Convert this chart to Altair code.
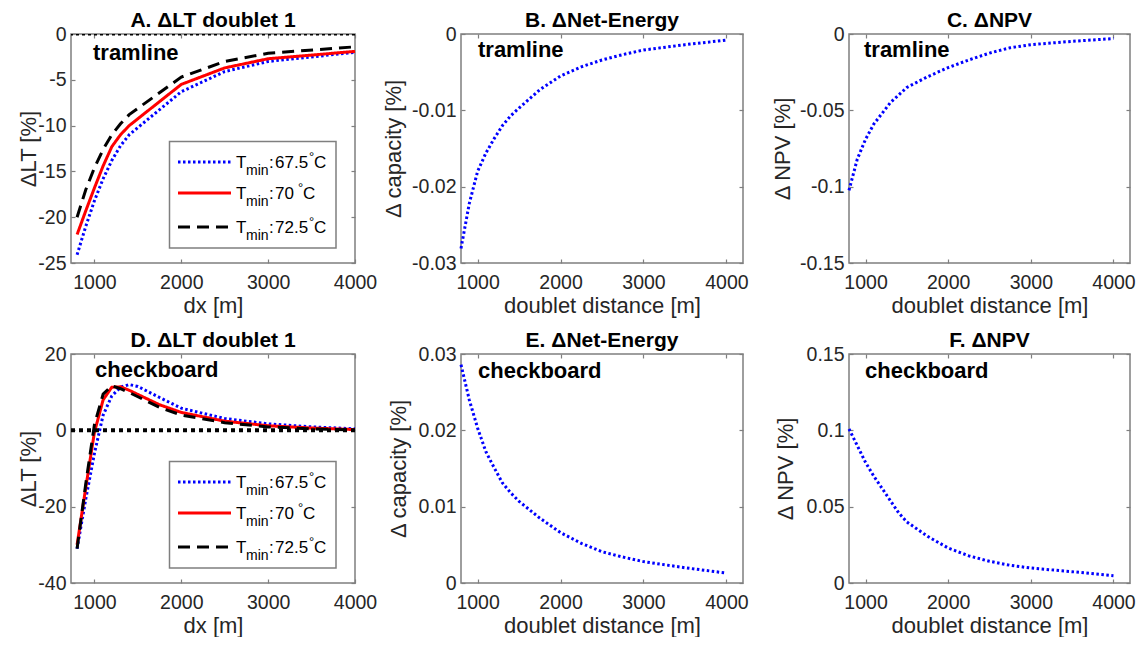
import altair as alt
import pandas as pd

FONT = "Liberation Sans"
GREY = "#7f7f7f"
TXT = "#262626"

# ---------------- data ----------------
series_names = ["67.5", "70", "72.5"]

# Panel A: tramline, delta LT doublet 1 [%]
x_a = [800, 900, 1000, 1100, 1200, 1300, 1400, 2000, 2500, 3000, 4000]
a_675 = [-24.1, -21.0, -18.2, -15.8, -13.8, -12.2, -11.0, -6.3, -4.1, -3.0, -2.0]
a_70 = [-21.9, -19.3, -16.8, -14.4, -12.3, -11.0, -10.0, -5.5, -3.7, -2.7, -1.9]
a_725 = [-20.0, -17.0, -14.6, -12.6, -11.0, -9.8, -8.8, -4.7, -3.0, -2.1, -1.4]

# Panel D: checkboard, delta LT doublet 1 [%]
x_d = [800, 900, 1000, 1100, 1200, 1300, 1400, 1500, 1750, 2000, 2500, 3000, 3500, 4000]
d_675 = [-31.0, -18.0, -6.0, 4.0, 9.0, 11.3, 12.0, 11.5, 8.6, 5.8, 3.1, 1.7, 0.9, 0.4]
d_70 = [-30.0, -15.0, -0.5, 8.0, 11.3, 11.4, 10.5, 9.4, 6.7, 4.7, 2.4, 1.2, 0.6, 0.2]
d_725 = [-31.0, -14.0, 1.5, 9.5, 11.7, 10.9, 9.9, 8.8, 6.0, 4.0, 2.0, 0.9, 0.4, 0.1]

# Panels B, C, E, F: doublet distance
x_dist = [800, 900, 1000, 1100, 1200, 1300, 1400, 1500, 1750, 2000, 2250, 2500, 2750, 3000, 3500, 4000]
b_cap = [-0.0281, -0.0222, -0.0180, -0.0156, -0.0137, -0.0120, -0.0107, -0.0097, -0.0073, -0.0055,
         -0.0043, -0.0034, -0.0027, -0.0021, -0.0014, -0.0008]
c_npv = [-0.1024, -0.0820, -0.0690, -0.0590, -0.0520, -0.0450, -0.0400, -0.0350, -0.0280, -0.0220,
         -0.0170, -0.0125, -0.0090, -0.0070, -0.0048, -0.0030]
e_cap = [0.0286, 0.0240, 0.0203, 0.0172, 0.0151, 0.0131, 0.0118, 0.0107, 0.0085, 0.0066,
         0.0052, 0.0041, 0.0034, 0.0028, 0.0020, 0.0013]
f_npv = [0.1009, 0.0900, 0.0790, 0.0700, 0.0620, 0.0540, 0.0460, 0.0400, 0.0306, 0.0229,
         0.0178, 0.0142, 0.0116, 0.0098, 0.0074, 0.0048]

x_ticks = [1000, 2000, 3000, 4000]

# ---------------- styling ----------------
COLORS = ["#0000ff", "#ff0000", "#000000"]
DASHES = [[2.5, 2.5], [1, 0], [12, 7]]
LAB_EXPR = "replace(datum.label, '\u2212', '-')"
FMT = ".12~g"
XDOM_LT = [730, 4000]
XDOM_DIST = [800, 4200]


def long_df(x, cols):
    rows = []
    for name, vals in zip(series_names, cols):
        for xi, yi in zip(x, vals):
            rows.append({"x": xi, "y": yi, "s": name})
    return pd.DataFrame(rows)


def make_axes(yvals, xtitle, ytitle, ytitle_x, w, h):
    xb = alt.Axis(orient="bottom", values=x_ticks, format=FMT, offset=-4, tickSize=4,
                  labelPadding=10, labelFlush=False, labelOverlap=False,
                  title=xtitle, titleBaseline="middle", titleY=46, titleX=w / 2)
    yl = alt.Axis(orient="left", values=yvals, format=FMT, labelExpr=LAB_EXPR, offset=-4,
                  tickSize=4, labelPadding=5, labelFlush=False, labelOverlap=False,
                  title=ytitle, titleBaseline="middle",
                  titleX=ytitle_x - 4, titleY=h / 2, titleAngle=-90)
    return xb, yl


def hidden_axes(df, xdom, ydom, yvals):
    return alt.Chart(df).mark_point(opacity=0).encode(
        x=alt.X("x:Q", scale=alt.Scale(domain=xdom, nice=False, zero=False),
                axis=alt.Axis(orient="top", values=x_ticks, labels=False, title=None,
                              offset=-4, tickSize=4)),
        y=alt.Y("y:Q", scale=alt.Scale(domain=ydom, nice=False, zero=False),
                axis=alt.Axis(orient="right", values=yvals, labels=False, title=None,
                              offset=-4, tickSize=4)),
    )


def line_layer(df, xdom, ydom, yvals, xtitle, ytitle, ytitle_x, w, h, multi):
    xb, yl = make_axes(yvals, xtitle, ytitle, ytitle_x, w, h)
    enc = dict(
        x=alt.X("x:Q", scale=alt.Scale(domain=xdom, nice=False, zero=False), axis=xb),
        y=alt.Y("y:Q", scale=alt.Scale(domain=ydom, nice=False, zero=False), axis=yl),
    )
    if multi:
        enc["color"] = alt.Color("s:N", scale=alt.Scale(domain=series_names, range=COLORS), legend=None)
        enc["strokeDash"] = alt.StrokeDash("s:N", scale=alt.Scale(domain=series_names, range=DASHES),
                                           legend=None)
        enc["order"] = alt.Order("x:Q")
        return alt.Chart(df).mark_line(strokeWidth=3, strokeCap="butt").encode(**enc)
    return alt.Chart(df).mark_line(strokeWidth=3, strokeCap="butt", color="#0000ff",
                                   strokeDash=[2.5, 2.5]).encode(**enc)


ONE = pd.DataFrame({"a": [0]})


def note(text, x, y):
    return alt.Chart(ONE).mark_text(text=text, font=FONT, fontSize=22, fontWeight="bold",
                                    align="left", baseline="alphabetic", color="black").encode(
        x=alt.value(x), y=alt.value(y))


def txt(text, x, y, size):
    return alt.Chart(ONE).mark_text(text=text, font=FONT, fontSize=size, align="left",
                                    baseline="alphabetic", color="black").encode(
        x=alt.value(x), y=alt.value(y))


def legend_layers():
    layers = [alt.Chart(ONE).mark_rect(fill="white", stroke=GREY, strokeWidth=1.5).encode(
        x=alt.value(98.5), x2=alt.value(265), y=alt.value(107.5), y2=alt.value(214))]
    row_y = [128, 159, 193]
    deg_x = [238, 227, 238]
    for i, name in enumerate(series_names):
        ry = row_y[i]
        layers.append(alt.Chart(ONE).mark_rule(color=COLORS[i], strokeWidth=3, strokeDash=DASHES[i],
                                               strokeCap="butt").encode(
            x=alt.value(107), x2=alt.value(160), y=alt.value(ry)))
        base = ry + 6
        layers.append(txt("T", 165, base, 17))
        layers.append(txt("min", 175, base + 7, 14))
        layers.append(txt(":", 198, base, 17))
        layers.append(txt(name, 204, base, 17))
        layers.append(txt("°", deg_x[i], base - 7, 13))
        layers.append(txt("C", deg_x[i] + 5, base, 17))
    return layers


def zero_rule(width, dash, clip):
    return alt.Chart(pd.DataFrame({"y": [0]})).mark_rule(
        color="black", strokeWidth=width, strokeDash=dash, clip=clip).encode(
        y=alt.Y("y:Q", axis=None))


W = [284, 282, 281]
H = 229

# Panel A
dfA = long_df(x_a, [a_675, a_70, a_725])
pA = alt.layer(
    line_layer(dfA, XDOM_LT, [-25, 0], [-25, -20, -15, -10, -5, 0], "dx [m]", "ΔLT [%]", -43,
               W[0], H, True),
    hidden_axes(dfA, XDOM_LT, [-25, 0], [-25, -20, -15, -10, -5, 0]),
    zero_rule(3, [3, 3], True),
    note("tramline", 22, 26),
    *legend_layers(),
).properties(width=W[0], height=H, title=alt.TitleParams("A. ΔLT doublet 1"))

dfB = pd.DataFrame({"x": x_dist, "y": b_cap})
pB = alt.layer(
    line_layer(dfB, XDOM_DIST, [-0.03, 0], [-0.03, -0.02, -0.01, 0], "doublet distance [m]",
               "Δ capacity [%]", -68, W[1], H, False),
    hidden_axes(dfB, XDOM_DIST, [-0.03, 0], [-0.03, -0.02, -0.01, 0]),
    note("tramline", 17, 23),
).properties(width=W[1], height=H, title=alt.TitleParams("B. ΔNet-Energy"))

dfC = pd.DataFrame({"x": x_dist, "y": c_npv})
pC = alt.layer(
    line_layer(dfC, XDOM_DIST, [-0.15, 0], [-0.15, -0.1, -0.05, 0], "doublet distance [m]",
               "Δ NPV [%]", -67, W[2], H, False),
    hidden_axes(dfC, XDOM_DIST, [-0.15, 0], [-0.15, -0.1, -0.05, 0]),
    note("tramline", 15, 23),
).properties(width=W[2], height=H, title=alt.TitleParams("C. ΔNPV"))

dfD = long_df(x_d, [d_675, d_70, d_725])
pD = alt.layer(
    line_layer(dfD, XDOM_LT, [-40, 20], [-40, -20, 0, 20], "dx [m]", "ΔLT [%]", -43,
               W[0], H, True),
    hidden_axes(dfD, XDOM_LT, [-40, 20], [-40, -20, 0, 20]),
    zero_rule(4, [4, 4], False),
    note("checkboard", 24, 23),
    *legend_layers(),
).properties(width=W[0], height=H, title=alt.TitleParams("D. ΔLT doublet 1"))

dfE = pd.DataFrame({"x": x_dist, "y": e_cap})
pE = alt.layer(
    line_layer(dfE, XDOM_DIST, [0, 0.03], [0, 0.01, 0.02, 0.03], "doublet distance [m]",
               "Δ capacity [%]", -63, W[1], H, False),
    hidden_axes(dfE, XDOM_DIST, [0, 0.03], [0, 0.01, 0.02, 0.03]),
    note("checkboard", 17, 24),
).properties(width=W[1], height=H, title=alt.TitleParams("E. ΔNet-Energy"))

dfF = pd.DataFrame({"x": x_dist, "y": f_npv})
pF = alt.layer(
    line_layer(dfF, XDOM_DIST, [0, 0.15], [0, 0.05, 0.1, 0.15], "doublet distance [m]",
               "Δ NPV [%]", -64, W[2], H, False),
    hidden_axes(dfF, XDOM_DIST, [0, 0.15], [0, 0.05, 0.1, 0.15]),
    note("checkboard", 16, 24),
).properties(width=W[2], height=H, title=alt.TitleParams("F. ΔNPV"))

chart = alt.concat(pA, pB, pC, pD, pE, pF, columns=3, spacing={"row": 91, "column": 106},
                   bounds="flush").properties(
    padding={"left": 8, "top": 1, "right": 0, "bottom": 0}
).configure_view(
    stroke=GREY, strokeWidth=1.5
).configure_axis(
    labelFont=FONT, titleFont=FONT, labelColor=TXT, titleColor=TXT, tickColor=GREY,
    grid=False, domain=False, labelFontSize=19.5, titleFontSize=22, titleFontWeight="normal",
    tickWidth=1.2
).configure_title(
    font=FONT, fontSize=21, fontWeight="bold", color="black", anchor="middle", offset=-7
)

chart.save("out.html", embed_options={"renderer": "svg", "actions": False})
